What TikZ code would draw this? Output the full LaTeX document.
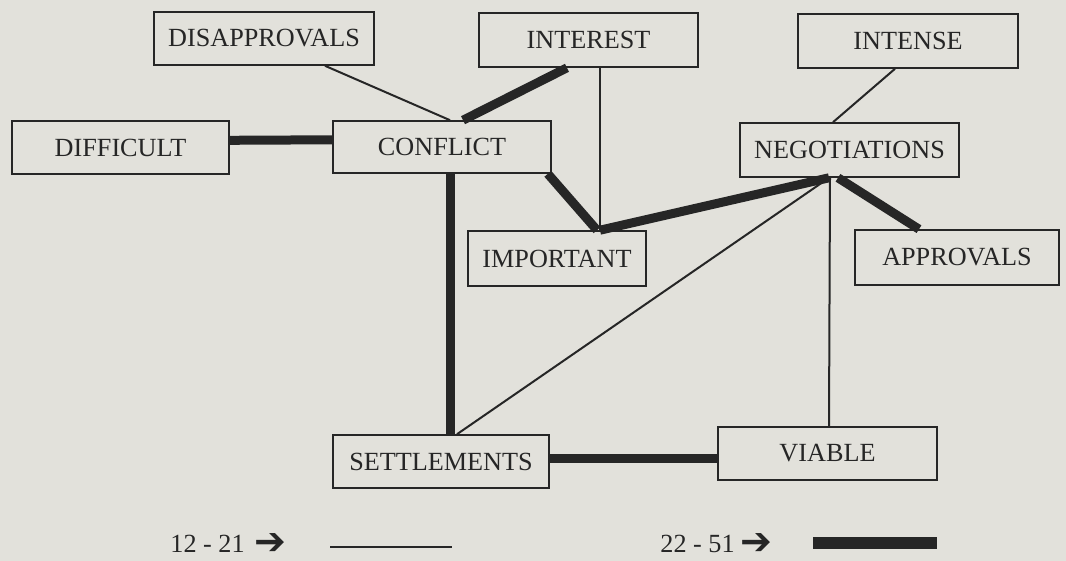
\documentclass[tikz,border=0pt]{standalone}
\usepackage{fontspec}
\setmainfont{Liberation Serif}
\newfontfamily\arrowfont{DejaVu Sans}
\definecolor{paper}{RGB}{226,225,219}
\definecolor{ink}{RGB}{38,38,38}

\begin{document}
\begin{tikzpicture}[x=0.5pt,y=-0.5pt,
  word/.style={draw=ink,line width=0.8pt,text=ink,inner sep=0pt,font=\fontsize{13.1}{15}\selectfont},
  key/.style={text=ink,inner sep=0pt,font=\fontsize{13.1}{15}\selectfont},
  weak/.style={draw=ink,line width=1pt},
  strong/.style={draw=ink,line width=4.5pt}]
\fill[paper] (0,0) rectangle (1066,561);
\useasboundingbox (0,0) rectangle (1066,561);
% boxes
\node[word,minimum width=110pt,minimum height=26.5pt] (disapprovals) at (264,38.5) {DISAPPROVALS};
\node[word,minimum width=109.5pt,minimum height=27pt] (interest) at (588.5,40) {INTEREST};
\node[word,minimum width=110pt,minimum height=27pt] (intense) at (908,41) {INTENSE};
\node[word,minimum width=108.5pt,minimum height=26.5pt] (difficult) at (120.5,147.5) {DIFFICULT};
\node[word,minimum width=109pt,minimum height=26pt] (conflict) at (442,147) {CONFLICT};
\node[word,minimum width=109.5pt,minimum height=27pt] (negotiations) at (849.5,150) {NEGOTIATIONS};
\node[word,minimum width=89pt,minimum height=27.5pt] (important) at (557,258.5) {IMPORTANT};
\node[word,minimum width=102pt,minimum height=27.5pt] (approvals) at (957,257.5) {APPROVALS};
\node[word,minimum width=108pt,minimum height=26.5pt] (settlements) at (441,461.5) {SETTLEMENTS};
\node[word,minimum width=109.5pt,minimum height=26.5pt] (viable) at (827.5,453.5) {VIABLE};
% links
\draw[weak] ([xshift=30.5pt]disapprovals.south) -- ([xshift=4pt]conflict.north);
\draw[strong] ([xshift=-10.75pt]interest.south) -- ([xshift=10.5pt]conflict.north);
\draw[strong] ([yshift=3.6pt]difficult.east) -- ([yshift=3.6pt]conflict.west);
\draw[strong] ([xshift=4pt]conflict.south) -- ([xshift=4.5pt]settlements.north);
\draw[strong] ([xshift=-2pt]conflict.south east) -- ([xshift=20pt]important.north);
\draw[weak] ([xshift=5.75pt]interest.south) -- ([xshift=21.5pt]important.north);
\draw[strong] ([xshift=21.5pt]important.north) -- ([xshift=-10.25pt]negotiations.south);
\draw[weak] ([xshift=-6.5pt]intense.south) -- ([xshift=-8.25pt]negotiations.north);
\draw[strong] ([xshift=-5.75pt]negotiations.south) -- ([xshift=-19pt]approvals.north);
\draw[weak] ([xshift=-10.25pt]negotiations.south) -- ([xshift=8pt]settlements.north);
\draw[weak] ([xshift=-9.75pt]negotiations.south) -- ([xshift=0.75pt]viable.north);
\draw[strong] ([yshift=1.75pt]settlements.east) -- ([yshift=-2.25pt]viable.west);
% legend
\node[key,anchor=base west] (low) at (170,552) {12 - 21\hspace{5pt}\smash{\raisebox{-1pt}{\arrowfont\fontsize{19}{19}\selectfont ➔}}};
\coordinate (lowa) at (330,547);
\coordinate (lowb) at (452,547);
\draw[weak,line width=1.2pt] (lowa) -- (lowb);
\node[key,anchor=base west] (high) at (660,552) {22 - 51\hspace{3pt}\smash{\raisebox{-1pt}{\arrowfont\fontsize{19}{19}\selectfont ➔}}};
\coordinate (higha) at (813,543);
\coordinate (highb) at (937,543);
\draw[draw=ink,line width=6pt] (higha) -- (highb);
\end{tikzpicture}
\end{document}
